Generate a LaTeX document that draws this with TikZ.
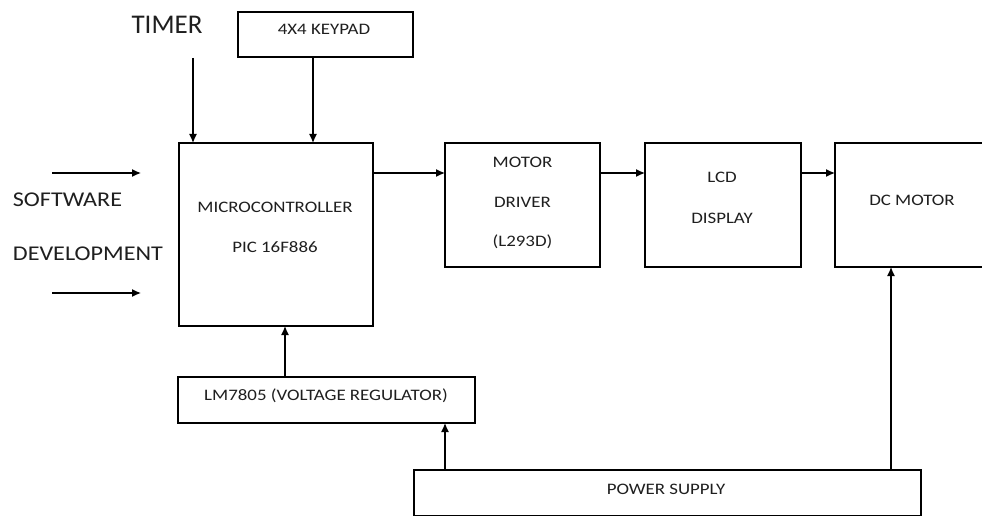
\documentclass[tikz,border=0pt]{standalone}
\usepackage{fontspec}
\setmainfont{Carlito}
\newfontfamily\lblfont[FakeStretch=1.18]{Carlito}
\newfontfamily\sidefont[FakeStretch=1.15]{Carlito}
\usetikzlibrary{arrows.meta}
\begin{document}
\begin{tikzpicture}[x=1pt,y=-1pt,
  box/.style={draw=black,line width=1.4pt,inner sep=0pt,outer sep=0pt},
  lbl/.style={font=\lblfont\fontsize{16}{18}\selectfont,text=black!88,anchor=base,inner sep=0pt},
  side/.style={font=\sidefont\fontsize{21}{24}\selectfont,text=black!88,anchor=base west,inner sep=0pt},
  arr/.style={line width=1.3pt,-{Latex[length=9pt,width=8pt]}}]
\useasboundingbox (0,0) rectangle (982,516);
\fill[white] (0,0) rectangle (982,516);
\clip (0,0) rectangle (982,516);
% boxes
\node[box,minimum width=175pt,minimum height=45pt] (keypad) at (325.5,34.5) {};
\node[box,minimum width=194pt,minimum height=183pt] (micro) at (276,234.5) {};
\node[box,minimum width=155pt,minimum height=124pt] (motor) at (522.5,205) {};
\node[box,minimum width=156pt,minimum height=124pt] (lcd) at (723,205) {};
\node[box,minimum width=160pt,minimum height=124pt] (dc) at (915,205) {};
\node[box,minimum width=297pt,minimum height=46pt] (lm) at (326.5,400) {};
\node[box,minimum width=507pt,minimum height=46pt] (power) at (667.5,493) {};
% labels
\node[lbl] (keypadT) at (324,34.7) {4X4 KEYPAD};
\node[lbl] (microT1) at (275,212.7) {MICROCONTROLLER};
\node[lbl] (microT2) at (275,252.7) {PIC 16F886};
\node[lbl] (motorT1) at (522.5,167.5) {MOTOR};
\node[lbl] (motorT2) at (522.5,207.5) {DRIVER};
\node[lbl] (motorT3) at (522.5,246) {(L293D)};
\node[lbl] (lcdT1) at (722,182.5) {LCD};
\node[lbl] (lcdT2) at (722,223.5) {DISPLAY};
\node[lbl] (dcT) at (912,205) {DC MOTOR};
\node[lbl] (lmT) at (326,400.5) {LM7805 (VOLTAGE REGULATOR)};
\node[lbl] (powerT) at (666,494.3) {POWER SUPPLY};
\node[font=\fontsize{27}{30}\selectfont,text=black!88,anchor=base,inner sep=0pt] (timer) at (167,33.3) {TIMER};
\node[side] (sw1) at (12.7,206.7) {SOFTWARE};
\node[side] (sw2) at (12.7,260) {DEVELOPMENT};
% free ends
\coordinate (tA) at (193,58);
\coordinate (s1a) at (52,173);
\coordinate (s1b) at (141,173);
\coordinate (s2a) at (52,293);
\coordinate (s2b) at (141,293);
\coordinate (kA) at ([xshift=-12.5pt]keypad.south);
\coordinate (lA) at ([xshift=-41.5pt]lm.north);
\coordinate (pA) at ([xshift=-222.5pt]power.north);
\coordinate (pB) at ([xshift=223.5pt]power.north);
% connectors
\draw[arr] (tA) -- (tA |- micro.north);
\draw[arr] (kA) -- (kA |- micro.north);
\draw[arr] (s1a) -- (s1b);
\draw[arr] (s2a) -- (s2b);
\draw[arr] ([yshift=-30pt]micro.north east) -- ([yshift=-30pt]motor.north west);
\draw[arr] ([yshift=-30pt]motor.north east) -- ([yshift=-30pt]lcd.north west);
\draw[arr] ([yshift=-30pt]lcd.north east) -- ([yshift=-30pt]dc.north west);
\draw[arr] (lA) -- (lA |- micro.south);
\draw[arr] (pA) -- (pA |- lm.south);
\draw[arr] (pB) -- (pB |- dc.south);
\end{tikzpicture}
\end{document}
